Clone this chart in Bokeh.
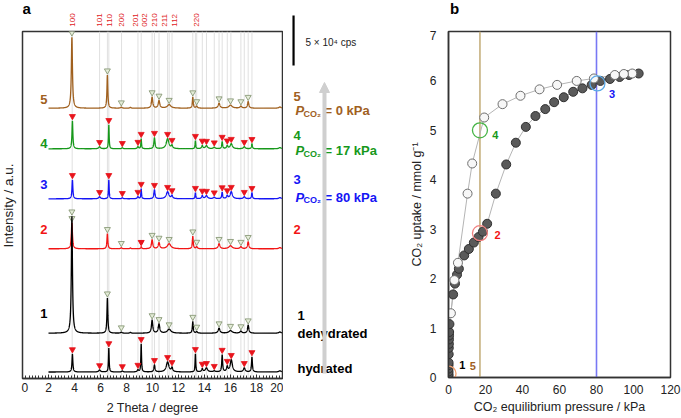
import numpy as np
from bokeh.plotting import figure
from bokeh.layouts import row, column
from bokeh.models import Range1d, FixedTicker, Arrow, NormalHead
from bokeh.core.properties import value
from bokeh.embed import file_html
from bokeh.resources import INLINE

FONT = "Liberation Sans"
INK = "#222222"
BROWN = "#a0601e"
GREEN = "#16981a"
BLUE = "#1414f5"
RED = "#f21414"

# ---------------- Panel a : XRD patterns (2theta in degree, intensity in 1e4 cps) ----------------
theta_start, theta_end = 2.0, 19.95

# dehydrated-type phase reflections (open triangles)
dehyd_pos = [3.80, 6.53, 7.60, 8.30, 9.97, 10.50, 11.28, 13.10, 13.40, 15.12, 16.00, 16.80, 17.36, 19.80]
dehyd_wid = [0.05, 0.04, 0.06, 0.05, 0.06, 0.07, 0.16, 0.04, 0.06, 0.08, 0.15, 0.08, 0.06, 0.10]
dehyd_marks = [3.80, 6.53, 7.60, 9.97, 10.50, 11.28, 13.10, 13.40, 15.12, 16.00, 16.80, 17.36]
h_trace5 = [7.1, 3.3, 0.10, 0.08, 1.1, 0.75, 0.35, 1.1, 0.2, 0.5, 0.3, 0.2, 0.65, 0.12]
h_trace1 = [11.7, 3.5, 0.10, 0.08, 1.3, 0.9, 0.4, 1.15, 0.15, 0.5, 0.25, 0.2, 0.8, 0.12]
h_trace2 = [2.6, 1.5, 0.10, 0.08, 0.9, 0.6, 0.5, 1.25, 0.2, 0.5, 0.3, 0.2, 0.7, 0.12]
extra2_pos = [9.13]
extra2_h = [0.2]
extra2_w = [0.04]

# hydrated-type phase reflections (filled red triangles)
hyd_pos = [3.84, 5.93, 6.64, 7.68, 8.88, 9.13, 10.15, 11.16, 11.50, 13.30, 13.83, 14.15, 14.75,
           15.36, 15.75, 16.06, 17.06, 17.65, 19.80]
hyd_wid = [0.04, 0.08, 0.03, 0.06, 0.06, 0.03, 0.05, 0.12, 0.06, 0.03, 0.06, 0.10, 0.08,
           0.04, 0.06, 0.10, 0.08, 0.04, 0.10]
hyd_marks = hyd_pos[:-1]
h_trace4 = [2.8, 0.2, 2.4, 0.1, 0.2, 1.0, 1.1, 1.0, 0.3, 0.8, 0.3, 0.3, 0.15, 0.7, 0.3, 0.5, 0.2, 0.5, 0.12]
h_trace3 = [1.9, 0.2, 1.9, 0.1, 0.2, 1.0, 0.9, 0.7, 0.3, 0.6, 0.3, 0.3, 0.15, 0.65, 0.3, 0.7, 0.2, 0.6, 0.12]
h_hydr = [1.8, 0.2, 2.4, 0.1, 0.2, 2.8, 0.7, 1.0, 0.4, 1.8, 0.3, 0.4, 0.1, 1.7, 0.5, 1.2, 0.4, 1.5, 0.12]

# vertical offsets of the stacked patterns
base5, base4, base3, base2, base1, baseh = 27.03, 22.97, 17.97, 12.97, 4.53, 0.65

ref_lines = [3.82, 5.93, 6.53, 6.64, 7.62, 8.88, 9.13, 9.97, 10.15, 10.50, 11.16, 11.28, 11.50,
             13.10, 13.30, 13.40, 13.83, 14.15, 14.75, 15.12, 15.36, 15.75, 16.03, 16.80,
             17.06, 17.36, 17.65]
hkl_labels = ["100", "101", "110", "200", "201", "002", "210", "211", "112", "220"]
hkl_pos = [3.82, 5.92, 6.67, 7.64, 8.69, 9.41, 10.15, 10.95, 11.69, 13.36]

x_ticks = list(range(0, 21, 2))
x_minor = [i * 0.25 for i in range(81)]
y_top = 34.7

scale_bar = 5.0  # 5 x 10^4 cps

# ---------------- Panel b : CO2 isotherm ----------------
ads_p = [0.0, 0.0, 0.0, 0.0, 0.0, 0.05, 0.1, 0.15, 0.2, 0.25, 0.3, 0.35, 0.5, 2.5, 3.5, 4.6, 5.6,
         8.5, 11.0, 13.7, 16.2, 18.6, 20.9, 25.6, 31.2, 36.4, 41.8, 47.0, 52.3, 57.1, 62.3,
         67.4, 72.4, 77.4, 82.1, 87.3, 92.5, 97.6, 102.8]
ads_q = [0.03, 0.07, 0.12, 0.18, 0.25, 0.30, 0.47, 0.60, 0.68, 0.77, 0.85, 0.92, 1.08, 1.68, 1.90,
         2.08, 2.20, 2.47, 2.60, 2.73, 2.84, 2.95, 3.11, 3.72, 4.31, 4.75, 5.07, 5.29, 5.43,
         5.57, 5.67, 5.78, 5.85, 5.92, 6.00, 6.04, 6.08, 6.12, 6.15]
des_p = [99.3, 94.8, 89.9, 78.6, 69.3, 58.7, 49.2, 38.9, 29.2, 19.3, 12.8, 10.3, 5.1, 3.2, 1.3]
des_q = [6.15, 6.14, 6.12, 6.05, 6.00, 5.92, 5.83, 5.70, 5.53, 5.26, 4.33, 3.72, 2.32, 1.97, 1.30]

state_labels = ["5", "4", "3", "2", "1"]
state_p = [0.0, 17.0, 80.5, 17.0]
state_q = [0.08, 5.0, 5.95, 2.92]
state_colors = ["#f0a070", "#46b446", "#5aa8e6", "#f08080"]
vline_p = [17.0, 80.0]
vline_colors = ["#c6b07e", "#7878f4"]


def pattern(pos, hts, wid, grid):
    y = np.zeros_like(grid)
    for c, h, w in zip(pos, hts, wid):
        y += h / (1.0 + ((grid - c) / w) ** 2)
    return y


def plain(fig):
    fig.outline_line_color = None
    fig.grid.visible = False
    fig.background_fill_color = "white"
    fig.border_fill_color = "white"


XR = Range1d(0.0, 20.0)

# ---- strip left of panel a (axis title) ----
la = figure(width=21, height=418, x_range=Range1d(0, 21), y_range=Range1d(0, 418),
            x_axis_location=None, y_axis_location=None, min_border=0,
            output_backend="svg", toolbar_location=None)
plain(la)
la.text(x=[8.0], y=[171], text=["Intensity / a.u."], angle=np.pi / 2, text_font=value(FONT),
        text_font_size="13.5px", text_color=INK, text_align="left", text_baseline="middle")

# ---- strip above panel a ----
top_a = figure(width=262, height=30, x_range=XR, y_range=Range1d(0, 30),
               x_axis_location=None, y_axis_location=None,
               min_border_left=1, min_border_right=1, min_border_top=0, min_border_bottom=0,
               output_backend="svg", toolbar_location=None)
plain(top_a)
top_a.text(x=[0.0], y=[22], text=["a"], text_font=value(FONT), text_font_size="15px",
           text_font_style="bold", text_color="black", text_align="left", text_baseline="middle")
top_a.text(x=hkl_pos, y=[3.8] * len(hkl_pos), text=hkl_labels, angle=np.pi / 2,
           text_font=value(FONT), text_font_size="8px", text_color="#e0201c",
           text_align="left", text_baseline="middle")

# ---- panel a frame ----
pa = figure(width=262, height=388, x_range=XR, y_range=Range1d(0, y_top),
            y_axis_location=None,
            min_border_left=1, min_border_right=1, min_border_top=1, min_border_bottom=40,
            output_backend="svg", toolbar_location=None)
pa.grid.visible = False
pa.outline_line_color = "#333333"
pa.outline_line_width = 1.5
pa.xaxis.ticker = FixedTicker(ticks=x_ticks, minor_ticks=x_minor)
pa.xaxis.major_tick_in = 4
pa.xaxis.major_tick_out = 0
pa.xaxis.minor_tick_in = 3
pa.xaxis.minor_tick_out = 0
pa.xaxis.axis_line_width = 1.5
pa.xaxis.axis_line_color = "#333333"
pa.xaxis.major_tick_line_color = "#333333"
pa.xaxis.minor_tick_line_color = "#333333"
pa.xaxis.major_label_standoff = 4
pa.xaxis.major_label_text_font = FONT
pa.xaxis.major_label_text_font_size = "12px"
pa.xaxis.major_label_text_color = INK
pa.xaxis.axis_label = "2 Theta / degree"
pa.xaxis.axis_label_standoff = 6
pa.xaxis.axis_label_text_font = FONT
pa.xaxis.axis_label_text_font_size = "12.5px"
pa.xaxis.axis_label_text_font_style = "normal"
pa.xaxis.axis_label_text_color = INK

for xv in ref_lines:
    pa.line([xv, xv], [0, y_top], line_color="#e0e0e0", line_width=1)

grid = np.arange(theta_start, theta_end + 1e-9, 0.005)
specs = [
    (base5, dehyd_pos, h_trace5, dehyd_wid, BROWN, "open", dehyd_marks),
    (base4, hyd_pos, h_trace4, hyd_wid, GREEN, "red", hyd_marks),
    (base3, hyd_pos, h_trace3, hyd_wid, BLUE, "red", hyd_marks),
    (base2, dehyd_pos + extra2_pos, h_trace2 + extra2_h, dehyd_wid + extra2_w, RED, "open", dehyd_marks),
    (base1, dehyd_pos, h_trace1, dehyd_wid, "black", "open", dehyd_marks),
    (baseh, hyd_pos, h_hydr, hyd_wid, "black", "red", hyd_marks),
]
for base, pos, hts, wid, col, kind, marks in specs:
    y = base + pattern(pos, hts, wid, grid)
    pa.line(grid, y, line_color=col, line_width=1.3)
    my = np.interp(marks, grid, y) + 0.45
    if kind == "open":
        pa.scatter(marks, my, marker="inverted_triangle", size=6,
                   fill_color="#e4ecd8", line_color="#7d8f6b", line_width=0.8)
    else:
        pa.scatter(marks, my, marker="inverted_triangle", size=6,
                   fill_color="#e8141c", line_color="#e8141c", line_width=0.8)
    if col == RED:
        y2 = np.interp(extra2_pos, grid, y) + 0.45
        pa.scatter(extra2_pos, y2, marker="inverted_triangle", size=6,
                   fill_color="#e8141c", line_color="#e8141c")

left_y = [27.9, 23.55, 19.45, 14.9, 6.55]
left_cols = [BROWN, GREEN, BLUE, RED, "black"]
pa.text(x=[1.92] * 5, y=left_y, text=state_labels, text_font=value(FONT), text_font_size="13px",
        text_font_style="bold", text_color=left_cols, text_align="right", text_baseline="middle")

# ---- strip right of panel a ----
ra = figure(width=122, height=418, x_range=Range1d(20 + 1 / 13, 20 + 123 / 13), y_range=Range1d(-4.0, 37.8),
            x_axis_location=None, y_axis_location=None, min_border=0,
            output_backend="svg", toolbar_location=None)
plain(ra)
ra.line([20.85, 20.85], [31.3, 31.3 + scale_bar], line_color="black", line_width=2.2)
ra.text(x=[21.77], y=[33.6], text=["5 × 10⁴ cps"], text_font=value(FONT), text_font_size="10px",
        text_color=INK, text_align="left", text_baseline="middle")
ra.add_layout(Arrow(end=NormalHead(size=10, fill_color="#cfcfcf", line_color="#cfcfcf"),
                    x_start=23.23, y_start=0.5, x_end=23.23, y_end=29.6,
                    line_color="#cfcfcf", line_width=4))
num_x = [20.85, 20.85, 20.85, 20.85, 21.15]
num_y = [28.25, 24.3, 19.9, 14.9, 6.3]
ra.text(x=num_x, y=num_y, text=state_labels, text_font=value(FONT), text_font_size="13px",
        text_font_style="bold", text_color=left_cols, text_align="left", text_baseline="middle")
p_y = [26.8, 22.8, 18.13]
p_vals = ["= 0 kPa", "= 17 kPa", "= 80 kPa"]
p_cols = [BROWN, GREEN, BLUE]
ra.text(x=[21.0] * 3, y=p_y, text=["P"] * 3, text_font=value(FONT), text_font_size="13px",
        text_font_style="bold italic", text_color=p_cols, text_align="left", text_baseline="middle")
ra.text(x=[21.62] * 3, y=[v - 0.3 for v in p_y], text=["CO₂"] * 3, text_font=value(FONT),
        text_font_size="9px", text_font_style="bold", text_color=p_cols, text_align="left",
        text_baseline="middle")
ra.text(x=[23.23] * 3, y=p_y, text=p_vals, text_font=value(FONT), text_font_size="13px",
        text_font_style="bold", text_color=p_cols, text_align="left", text_baseline="middle")
ra.text(x=[21.15, 21.15], y=[4.53, 1.0], text=["dehydrated", "hydrated"], text_font=value(FONT),
        text_font_size="13px", text_font_style="bold", text_color="black", text_align="left",
        text_baseline="middle")

# ---------------- panel b ----------------
PBX = Range1d(0, 120)
top_b = figure(width=276, height=30, x_range=PBX, y_range=Range1d(0, 30),
               x_axis_location=None, y_axis_location=None,
               min_border_left=43, min_border_right=11, min_border_top=0, min_border_bottom=0,
               output_backend="svg", toolbar_location=None)
plain(top_b)
top_b.text(x=[0.8], y=[22], text=["b"], text_font=value(FONT), text_font_size="15px",
           text_font_style="bold", text_color="black", text_align="left", text_baseline="middle")

pb = figure(width=276, height=388, x_range=PBX, y_range=Range1d(0, 7),
            min_border_left=43, min_border_right=11, min_border_top=1, min_border_bottom=41,
            output_backend="svg", toolbar_location=None)
pb.grid.visible = False
pb.outline_line_color = "#333333"
pb.outline_line_width = 1.5
pb.xaxis.ticker = FixedTicker(ticks=list(range(0, 121, 20)))
pb.yaxis.ticker = FixedTicker(ticks=list(range(0, 8)))
for ax in (pb.xaxis[0], pb.yaxis[0]):
    ax.major_tick_in = 0
    ax.major_tick_out = 0
    ax.minor_tick_in = 0
    ax.minor_tick_out = 0
    ax.axis_line_color = "#333333"
    ax.axis_line_width = 1.5
    ax.major_label_text_font = FONT
    ax.major_label_text_font_size = "12px"
    ax.major_label_text_color = INK
    ax.axis_label_text_font = FONT
    ax.axis_label_text_font_size = "12.5px"
    ax.axis_label_text_font_style = "normal"
    ax.axis_label_text_color = INK
    ax.axis_label_standoff = 3
pb.xaxis.major_label_standoff = 7
pb.yaxis.major_label_standoff = 12
pb.xaxis.axis_label = "CO₂ equilibrium pressure / kPa"
pb.yaxis.axis_label = "CO₂ uptake / mmol g⁻¹"

for xv, c in zip(vline_p, vline_colors):
    pb.line([xv, xv], [0, 7], line_color=c, line_width=1.6)
pb.line(ads_p, ads_q, line_color="#b4b4b4", line_width=1)
pb.line(des_p, des_q, line_color="#b4b4b4", line_width=1)
pb.scatter(ads_p, ads_q, size=9, fill_color="#5a5a5a", line_color="#303030", line_width=1)
pb.scatter(des_p, des_q, size=9, fill_color="#f7f7f7", line_color="#6e6e6e", line_width=1)
pb.scatter(state_p, state_q, size=15, fill_color=None, line_color=state_colors, line_width=1.3)
pb.text(x=[23.6, 86.7, 24.9, 5.8, 11.5], y=[4.9, 5.74, 2.89, 0.26, 0.24],
        text=["4", "3", "2", "1", "5"], text_font=value(FONT), text_font_size="11px",
        text_font_style="bold", text_color=[GREEN, BLUE, RED, "black", BROWN],
        text_align="left", text_baseline="middle")

layout = row(la, column(top_a, pa), ra, column(top_b, pb))
open("out.html", "w").write(file_html(layout, INLINE))
